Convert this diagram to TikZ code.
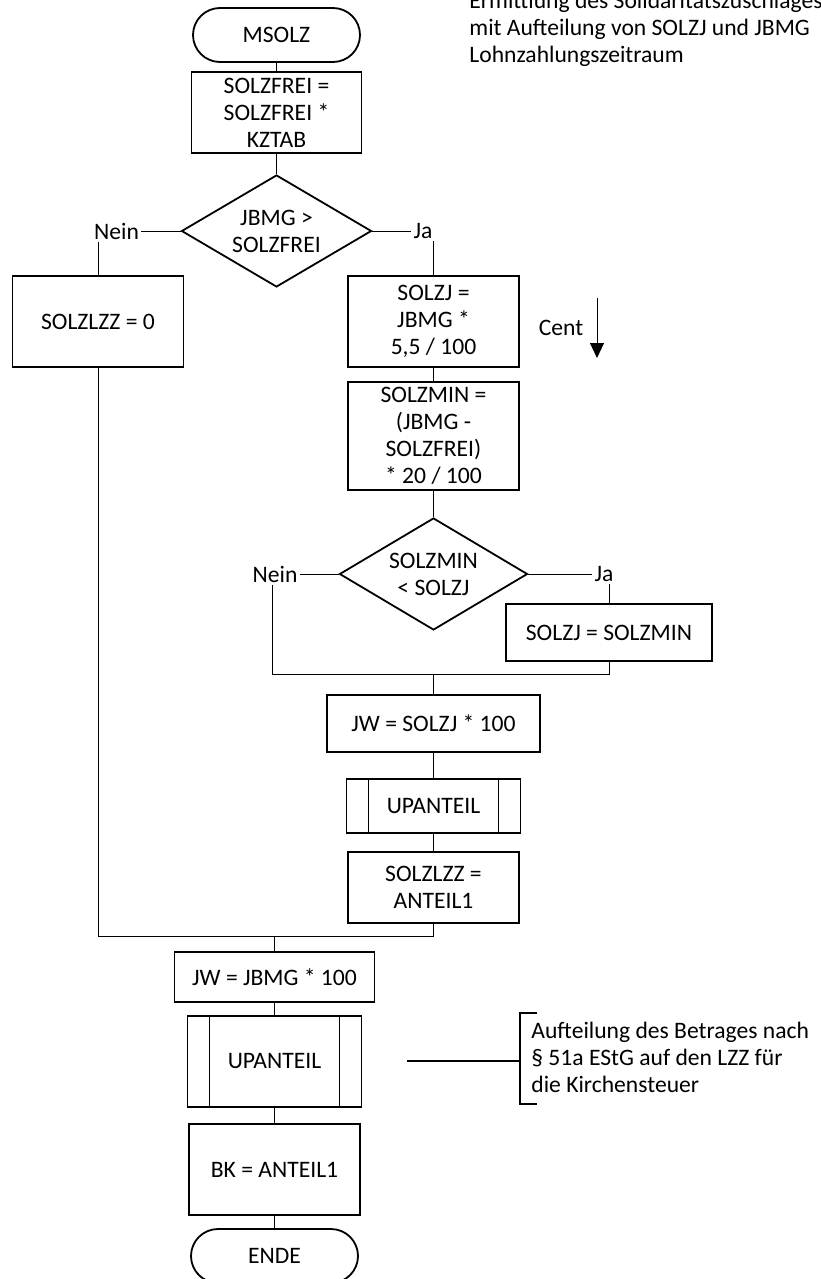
\documentclass[tikz,border=0pt]{standalone}
\usepackage{fontspec}
\setmainfont{Carlito}
\usetikzlibrary{arrows.meta,positioning,shapes.geometric}

\tikzset{
  box/.style={draw,line width=0.9pt,minimum width=85.5pt,minimum height=45.5pt},
  term/.style={draw,line width=0.9pt,rounded corners=13.5pt,minimum width=83.5pt,minimum height=27pt},
  dec/.style={draw,diamond,line width=0.9pt,minimum width=95pt,minimum height=56pt,aspect=1.7},
  sub/.style={box,path picture={\draw[line width=0.9pt]
      ([xshift=11pt]path picture bounding box.north west) -- ([xshift=11pt]path picture bounding box.south west)
      ([xshift=-11pt]path picture bounding box.north east) -- ([xshift=-11pt]path picture bounding box.south east);}},
  lbl/.style={inner sep=1pt},
  conn/.style={line width=0.5pt}
}

\begin{document}
\begin{tikzpicture}[x=0.5pt,y=-0.5pt,every node/.style={font=\fontsize{11.8}{13.5}\selectfont,align=center,inner sep=0pt}]
\useasboundingbox (0,0) rectangle (820,1279);
\node[term] (msolz) at (276.5,35) {MSOLZ};
\node[box,minimum width=85pt,minimum height=40.5pt] (sf) at (276.5,112.5) {SOLZFREI =\\SOLZFREI *\\KZTAB};
\node[dec] (d1) at (276.5,231) {JBMG >\\SOLZFREI};
\node[lbl] (nein1) at (116.5,231) {Nein};
\node[lbl] (ja1) at (423,231) {Ja};
\node[box] (lzz0) at (98,321.5) {SOLZLZZ = 0};
\node[box] (sj) at (433.5,321.5) {SOLZJ =\\JBMG *\\5,5 / 100};
\node (cent) at (561,328) {Cent};
\coordinate (ct) at (597,298);
\coordinate (cb) at (597,358);
\node[box,minimum height=54pt] (smin) at (433.5,436) {SOLZMIN =\\(JBMG -\\SOLZFREI)\\* 20 / 100};
\node[dec,minimum width=94pt] (d2) at (433.5,574) {SOLZMIN\\< SOLZJ};
\node[lbl] (nein2) at (275,574) {Nein};
\node[lbl] (ja2) at (604,574) {Ja};
\node[box,minimum width=103pt,minimum height=28.5pt] (smin2) at (609,632.5) {SOLZJ = SOLZMIN};
\coordinate (m1l) at (272,674);
\coordinate (m1) at (433.5,674);
\coordinate (m1r) at (609,674);
\node[box,minimum width=106.5pt,minimum height=28.5pt] (jw1) at (433.5,723.5) {JW = SOLZJ * 100};
\node[sub,minimum width=87pt,minimum height=27pt] (up1) at (433.5,806) {UPANTEIL};
\node[box,minimum height=35.5pt] (lzz1) at (433.5,887.5) {SOLZLZZ =\\ANTEIL1};
\coordinate (m2l) at (98,936);
\coordinate (m2) at (274.5,936);
\coordinate (m2r) at (433.5,936);
\node[box,minimum width=100pt,minimum height=25pt] (jw2) at (274.5,977) {JW = JBMG * 100};
\node[sub,minimum width=87pt] (up2) at (274.5,1061.5) {UPANTEIL};
\node[box] (bk) at (274.5,1169.5) {BK = ANTEIL1};
\node[term] (ende) at (274.5,1256) {ENDE};
\coordinate (an) at (407,1061);
\coordinate (br) at (520,1061);
\node[align=left,anchor=west] (note) at (531,1057) {Aufteilung des Betrages nach\\§ 51a EStG auf den LZZ für\\die Kirchensteuer};
\node[align=left,anchor=south west] (title) at (469,67) {Ermittlung des Solidaritätszuschlages\\mit Aufteilung von SOLZJ und JBMG\\Lohnzahlungszeitraum};
\draw[conn] (msolz) -- (sf);
\draw[conn] (sf) -- (d1);
\draw[conn] (d1.west) -- (nein1.east);
\draw[conn] (nein1.south -| lzz0.north) -- (lzz0.north);
\draw[conn] (d1.east) -- (ja1.west);
\draw[conn] (ja1.south -| sj.north) -- (sj.north);
\draw[conn] (sj) -- (smin);
\draw[conn] (smin) -- (d2);
\draw[conn] (d2.west) -- (nein2.east);
\draw[conn] (nein2.south -| m1l) -- (m1l) -- (m1r) -- (smin2.south);
\draw[conn] (d2.east) -- (ja2.west);
\draw[conn] (ja2.south -| smin2.north) -- (smin2.north);
\draw[conn] (m1) -- (jw1);
\draw[conn] (jw1) -- (up1);
\draw[conn] (up1) -- (lzz1);
\draw[conn] (lzz0.south) -- (m2l) -- (m2r) -- (lzz1.south);
\draw[conn] (m2) -- (jw2);
\draw[conn] (jw2) -- (up2);
\draw[conn] (up2) -- (bk);
\draw[conn] (bk) -- (ende);
\draw[line width=0.6pt] (an) -- (br);
\draw[line width=0.9pt] (537,1013) -| (br) |- (537,1104);
\draw[-{Triangle[width=7pt,length=7.5pt]},line width=0.5pt] (ct) -- (cb);
\end{tikzpicture}
\end{document}
